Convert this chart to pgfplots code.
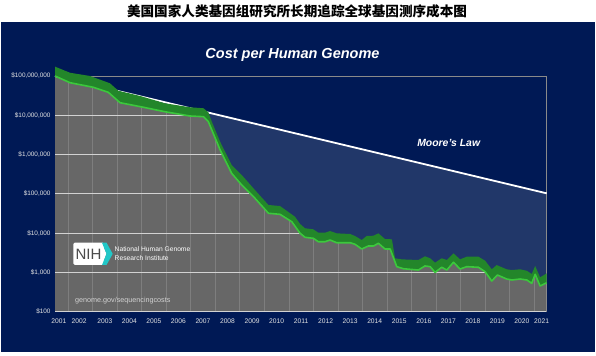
\documentclass[border=0pt]{standalone}
\usepackage{pgfplots}
\pgfplotsset{compat=1.18}
\usepackage{pgfplotstable}
\usepackage{fontspec}
\setmainfont{Liberation Sans}
\newfontfamily\cjk{Noto Sans CJK SC}
\definecolor{navybg}{HTML}{001955}
\definecolor{wedge}{HTML}{213769}
\definecolor{plotgrey}{HTML}{676767}
\definecolor{bandgreen}{HTML}{23862A}
\definecolor{brightgreen}{HTML}{3CC83C}
\definecolor{hgrid}{HTML}{D2D2D2}
\definecolor{vgrid}{HTML}{7E7E7E}
\definecolor{framegrey}{HTML}{8A8A8A}
\definecolor{ticktext}{HTML}{E2E2E2}
\definecolor{nihcyan}{HTML}{22C7C7}
\definecolor{nihtext}{HTML}{4A4A4A}

% cost per genome (lower edge, bright green line)
\pgfplotstableread{
x y
2001.47 1.00e8
2002.08 6.75e7
2003.03 5.16e7
2003.64 3.85e7
2004.12 2.09e7
2005.07 1.60e7
2005.95 1.23e7
2006.97 9.59e6
2007.52 9.20e6
2007.72 6.87e6
2008.20 1.31e6
2008.67 3.33e5
2009.08 1.68e5
2009.62 7.70e4
2010.17 3.20e4
2010.64 3.01e4
2011.12 1.95e4
2011.46 9.90e3
2011.66 7.83e3
2012.00 7.38e3
2012.20 6.05e3
2012.48 6.05e3
2012.68 6.68e3
2012.95 5.70e3
2013.50 5.70e3
2013.70 5.19e3
2013.97 3.94e3
2014.24 4.70e3
2014.45 4.70e3
2014.65 5.51e3
2014.92 3.94e3
2015.13 3.94e3
2015.40 1.40e3
2015.67 1.24e3
2016.28 1.15e3
2016.55 1.46e3
2016.76 1.40e3
2016.96 1.00e3
2017.23 1.35e3
2017.44 1.15e3
2017.71 1.81e3
2017.98 1.22e3
2018.25 1.40e3
2018.73 1.35e3
2019.00 1.04e3
2019.27 604
2019.50 859
2019.88 679
2020.09 641
2020.43 679
2020.70 641
2020.90 528
2021.04 895
2021.24 451
2021.51 547
}\costtab

% upper edge of the dark green band
\pgfplotstableread{
x y
2001.47 1.73e8
2002.08 1.21e8
2002.90 1.00e8
2003.71 6.52e7
2004.05 4.22e7
2004.94 3.10e7
2005.95 2.02e7
2006.97 1.60e7
2007.52 1.51e7
2007.72 1.19e7
2007.86 6.87e6
2008.20 2.12e6
2008.67 5.42e5
2009.08 3.02e5
2009.62 1.25e5
2010.17 5.20e4
2010.64 4.90e4
2011.25 2.62e4
2011.46 1.71e4
2011.66 1.33e4
2012.00 1.25e4
2012.20 1.03e4
2012.48 1.03e4
2012.68 1.13e4
2012.95 9.89e3
2013.50 9.50e3
2013.70 8.45e3
2013.97 6.68e3
2014.17 8.45e3
2014.45 8.60e3
2014.65 9.89e3
2014.92 7.08e3
2015.20 6.96e3
2015.33 2.29e3
2015.60 2.15e3
2016.28 2.07e3
2016.55 2.57e3
2016.76 2.29e3
2016.96 1.77e3
2017.23 2.29e3
2017.44 2.07e3
2017.71 3.06e3
2017.98 2.15e3
2018.25 2.51e3
2018.73 2.51e3
2019.00 1.99e3
2019.27 1.20e3
2019.47 1.54e3
2019.88 1.20e3
2020.09 1.15e3
2020.43 1.20e3
2020.70 1.10e3
2020.90 910
2021.04 1.46e3
2021.24 750
2021.51 948
}\uppertab

% Moore's law
\pgfplotstableread{
x y
2001.47 1.00e8
2021.51 1.03e5
}\mooretab

% top of plot area (for closing the navy region)
\pgfplotstableread{
x y
2021.51 1e8
2001.47 1e8
}\toptab

\pgfplotstablesort[sort key=x, sort cmp=float >]{\costrev}{\costtab}
\pgfplotstablesort[sort key=x, sort cmp=float <]{\navytab}{\costtab}
\pgfplotstablevertcat{\navytab}{\toptab}
\pgfplotstablesort[sort key=x, sort cmp=float <]{\wedgetab}{\mooretab}
\pgfplotstablevertcat{\wedgetab}{\costrev}
\pgfplotstablesort[sort key=x, sort cmp=float <]{\bandtab}{\uppertab}
\pgfplotstablevertcat{\bandtab}{\costrev}

\begin{document}
\begin{tikzpicture}
\fill[white] (0bp,0bp) rectangle (596bp,356bp);
\fill[navybg] (1bp,4bp) rectangle (595bp,334bp);
\node[font=\cjk\bfseries\fontsize{13.6bp}{16bp}\selectfont, text=black] at (297bp,344.6bp) {美国国家人类基因组研究所长期追踪全球基因测序成本图};
\node[anchor=base, font=\bfseries\itshape\fontsize{14.5bp}{17bp}\selectfont, text=white] at (292.5bp,297.7bp) {Cost per Human Genome};

\begin{axis}[
  at={(55bp,44.3bp)}, anchor=south west,
  scale only axis, width=491.7bp, height=235.7bp,
  ymode=log, xmin=2001.47, xmax=2021.51, ymin=100, ymax=1e8,
  clip=false,
  axis background/.style={fill=plotgrey},
  axis line style={draw=none},
  ytick={100,1000,10000,100000,1000000,10000000,100000000},
  yticklabels={{\$100},{\$1,000},{\$10,000},{\$100,000},{\$1,000,000},{\$10,000,000},{\$100,000,000}},
  ymajorgrids, y grid style={hgrid, line width=0.8bp},
  yminorticks=false,
  xtick={2001.63,2002.45,2003.5,2004.5,2005.5,2006.5,2007.5,2008.5,2009.5,2010.5,2011.5,2012.5,2013.5,2014.5,2015.5,2016.5,2017.5,2018.5,2019.5,2020.5,2021.3},
  xticklabels={2001,2002,2003,2004,2005,2006,2007,2008,2009,2010,2011,2012,2013,2014,2015,2016,2017,2018,2019,2020,2021},
  minor xtick={2002,2003,2004,2005,2006,2007,2008,2009,2010,2011,2012,2013,2014,2015,2016,2017,2018,2019,2020,2021},
  xminorgrids, minor x grid style={vgrid, line width=0.6bp},
  major tick length=0pt, minor tick length=0pt,
  yticklabel style={font=\fontsize{6.4bp}{7bp}\selectfont, text=ticktext, inner sep=0pt, xshift=-4.3bp},
  xticklabel style={font=\fontsize{6.7bp}{7bp}\selectfont, text=ticktext, inner sep=0pt, yshift=-6.8bp},
]
\addplot[fill=navybg, draw=none] table[x=x,y=y]{\navytab};
\addplot[fill=wedge, draw=none] table[x=x,y=y]{\wedgetab};
\draw[framegrey, line width=0.6bp] (rel axis cs:0,1) -- (rel axis cs:1,1) -- (rel axis cs:1,0);
\addplot[white, line width=1.8bp] table[x=x,y=y]{\mooretab};
\addplot[fill=bandgreen, draw=none] table[x=x,y=y]{\bandtab};
\addplot[brightgreen, line width=1.6bp, line join=round] table[x=x,y=y]{\costtab};
\end{axis}

\node[anchor=base, font=\bfseries\itshape\fontsize{10.4bp}{12bp}\selectfont, text=white] at (448.7bp,209bp) {Moore's Law};

% NIH logo
\fill[white, rounded corners=1.5bp] (73.3bp,91bp) rectangle (104bp,113.3bp);
\fill[white] (102bp,113.3bp) -- (106.5bp,102.15bp) -- (102bp,91bp) -- cycle;
\fill[nihcyan] (102bp,113.3bp) -- (106.5bp,113.3bp) -- (112.7bp,102.15bp) -- (106.5bp,91bp) -- (102bp,91bp) -- (106.5bp,102.15bp) -- cycle;
\node[anchor=base, font=\fontsize{15bp}{17bp}\selectfont, text=nihtext, inner sep=0pt] at (88.5bp,96bp) {NIH};
\node[anchor=base west, font=\fontsize{6.7bp}{8bp}\selectfont, text=white, inner sep=0pt] at (114.5bp,104.3bp) {National Human Genome};
\node[anchor=base west, font=\fontsize{6.7bp}{8bp}\selectfont, text=white, inner sep=0pt] at (114.5bp,95.3bp) {Research Institute};
\node[anchor=base west, font=\fontsize{7.2bp}{8bp}\selectfont, text=hgrid, inner sep=0pt] at (75bp,53.7bp) {genome.gov/sequencingcosts};
\end{tikzpicture}
\end{document}
